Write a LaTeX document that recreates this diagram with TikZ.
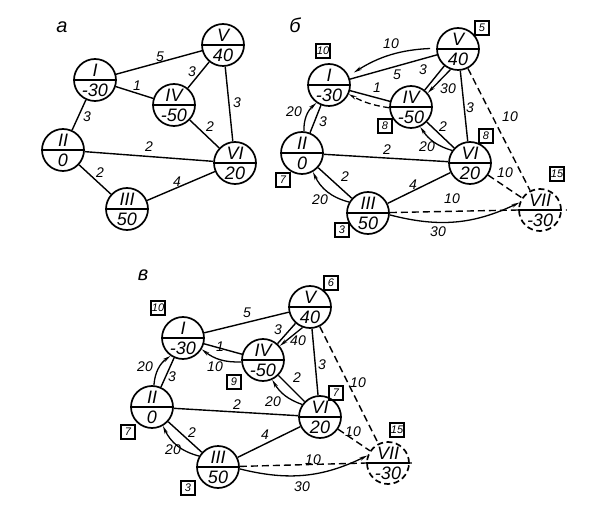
\documentclass[tikz,border=0pt]{standalone}
\usepackage{fontspec}
\setmainfont{Liberation Sans}
\usetikzlibrary{arrows.meta}

% circle with a dividing line: name, position, top text, bottom text
\newcommand{\vtx}[5][vtx]{%
  \node[#1] (#2) at #3 {};
  \draw[vline] (#2.west) -- (#2.east);
  \node[vtxtxt] (#2-t) at ([yshift=10pt]#2.center) {#4};
  \node[vtxtxt] (#2-b) at ([yshift=-10pt]#2.center) {#5};
}

\begin{document}
\begin{tikzpicture}[x=1pt, y=-1pt,
    vtx/.style={circle, draw, line width=1.7pt, minimum size=42pt, inner sep=0pt},
    dvtx/.style={vtx, dash pattern=on 6pt off 3.5pt},
    vline/.style={line width=1.5pt},
    vtxtxt/.style={font=\fontsize{18}{18}\selectfont\itshape, inner sep=0pt},
    edge/.style={line width=1.4pt},
    dedge/.style={edge, dash pattern=on 7pt off 4pt},
    flow/.style={line width=1.3pt, -{Stealth[length=8pt, width=3.5pt]}},
    wt/.style={font=\fontsize{14}{14}\selectfont\itshape, inner sep=0pt},
    tag/.style={draw, line width=1.5pt, minimum size=14pt, inner sep=0pt, font=\fontsize{11}{11}\selectfont\itshape},
    panel/.style={font=\fontsize{20}{20}\selectfont\itshape, inner sep=0pt}]

  \useasboundingbox[fill=white] (0,0) rectangle (596,510);

  %% panel a
  \node[panel] (pa) at (62,27) {а};
  \vtx{aI}{(95,80)}{I}{-30}
  \vtx{aV}{(223,45)}{V}{40}
  \vtx{aIV}{(174,105)}{IV}{-50}
  \vtx{aII}{(63,150)}{II}{0}
  \vtx{aVI}{(235,163)}{VI}{20}
  \vtx{aIII}{(127,209)}{III}{50}

  \draw[edge] (aI) -- (aV);
  \draw[edge] (aI) -- (aIV);
  \draw[edge] (aV) -- (aIV);
  \draw[edge] (aV) -- (aVI);
  \draw[edge] (aIV) -- (aVI);
  \draw[edge] (aI) -- (aII);
  \draw[edge] (aII) -- (aVI);
  \draw[edge] (aII) -- (aIII);
  \draw[edge] (aIII) -- (aVI);

  \node[wt] (aw1) at (160,57) {5};
  \node[wt] (aw2) at (137,86) {1};
  \node[wt] (aw3) at (192,72) {3};
  \node[wt] (aw4) at (237,103) {3};
  \node[wt] (aw5) at (210,127) {2};
  \node[wt] (aw6) at (87,117) {3};
  \node[wt] (aw7) at (149,147) {2};
  \node[wt] (aw8) at (100,173) {2};
  \node[wt] (aw9) at (177,182) {4};

  %% panel b
  \node[panel] (pb) at (295,25) {б};
  \vtx{bI}{(329,85)}{I}{-30}
  \vtx{bV}{(458,49)}{V}{40}
  \vtx{bIV}{(411,107)}{IV}{-50}
  \vtx{bII}{(302,153)}{II}{0}
  \vtx{bVI}{(470,163)}{VI}{20}
  \vtx{bIII}{(368,213)}{III}{50}
  \vtx[dvtx]{bVII}{(540,210)}{VII}{-30}
  \coordinate (bVIIe) at ([xshift=5pt]bVII.east);

  \draw[edge] (bI) -- (bV);
  \draw[edge] (bI) -- (bIV);
  \draw[edge] (bV) -- (bIV);
  \draw[edge] (bV) -- (bVI);
  \draw[edge] (bIV) -- (bVI);
  \draw[edge] (bI) -- (bII);
  \draw[edge] (bII) -- (bVI);
  \draw[edge] (bII) -- (bIII);
  \draw[edge] (bIII) -- (bVI);
  \draw[dedge] (bIII) -- (bVII.west) -- (bVIIe);
  \draw[dedge] (bVI) -- (bVII);
  \draw[dedge] (bV) -- (bVII);

  \draw[flow, shorten <=6pt, shorten >=6pt] (bV.178) to[bend right=15] (bI.25);
  \draw[flow] (bV.250) -- (bIV.40);
  \draw[flow, dash pattern=on 6pt off 3.5pt] (bIV.182) to[bend left=10] (bI.335);
  \draw[flow] (bII.85) to[bend left=25] (bI.235);
  \draw[flow] (bVI.145) to[bend left=20] (bIV.295);
  \draw[flow] (bIII.150) to[bend left=25] (bII.300);
  \draw[flow] (bIII.355) to[bend right=20] (bVII.160);

  \node[wt] (bw1) at (397,75) {5};
  \node[wt] (bw2) at (377,88) {1};
  \node[wt] (bw3) at (423,70) {3};
  \node[wt] (bw4) at (470,108) {3};
  \node[wt] (bw5) at (443,127) {2};
  \node[wt] (bw6) at (323,122) {3};
  \node[wt] (bw7) at (387,150) {2};
  \node[wt] (bw8) at (345,177) {2};
  \node[wt] (bw9) at (413,185) {4};
  \node[wt] (bw10) at (452,199) {10};
  \node[wt] (bw11) at (505,173) {10};
  \node[wt] (bw12) at (510,117) {10};
  \node[wt] (bf1) at (391,44) {10};
  \node[wt] (bf2) at (448,89) {30};
  \node[wt] (bf3) at (294,112) {20};
  \node[wt] (bf4) at (427,147) {20};
  \node[wt] (bf5) at (320,200) {20};
  \node[wt] (bf6) at (438,232) {30};

  \node[tag] (bt1) at (323,51) {10};
  \node[tag] (bt2) at (482,28) {5};
  \node[tag] (bt3) at (385,126) {8};
  \node[tag] (bt4) at (486,136) {8};
  \node[tag] (bt5) at (283,180) {7};
  \node[tag] (bt6) at (342,230) {3};
  \node[tag] (bt7) at (557,174) {15};

  %% panel c
  \node[panel] (pc) at (143,275) {в};
  \vtx{cI}{(183,338)}{I}{-30}
  \vtx{cV}{(310,307)}{V}{40}
  \vtx{cIV}{(263,360)}{IV}{-50}
  \vtx{cII}{(152,407)}{II}{0}
  \vtx{cVI}{(320,417)}{VI}{20}
  \vtx{cIII}{(218,467)}{III}{50}
  \vtx[dvtx]{cVII}{(388,463)}{VII}{-30}
  \coordinate (cVIIe) at ([xshift=5pt]cVII.east);

  \draw[edge] (cI) -- (cV);
  \draw[edge] (cI) -- (cIV);
  \draw[edge] (cV) -- (cIV);
  \draw[edge] (cV) -- (cVI);
  \draw[edge] (cIV) -- (cVI);
  \draw[edge] (cI) -- (cII);
  \draw[edge] (cII) -- (cVI);
  \draw[edge] (cII) -- (cIII);
  \draw[edge] (cIII) -- (cVI);
  \draw[dedge] (cIII) -- (cVII.west) -- (cVIIe);
  \draw[dedge] (cVI) -- (cVII);
  \draw[dedge] (cV) -- (cVII);

  \draw[flow] (cV.250) -- (cIV.40);
  \draw[flow] (cIV.185) to[bend left=20] (cI.329);
  \draw[flow] (cII.85) to[bend left=25] (cI.235);
  \draw[flow] (cVI.145) to[bend left=20] (cIV.295);
  \draw[flow] (cIII.150) to[bend left=25] (cII.300);
  \draw[flow] (cIII.355) to[bend right=20] (cVII.160);

  \node[wt] (cw1) at (247,313) {5};
  \node[wt] (cw2) at (220,347) {1};
  \node[wt] (cw3) at (278,330) {3};
  \node[wt] (cw4) at (322,365) {3};
  \node[wt] (cw5) at (297,378) {2};
  \node[wt] (cw6) at (172,377) {3};
  \node[wt] (cw7) at (237,405) {2};
  \node[wt] (cw8) at (192,433) {2};
  \node[wt] (cw9) at (265,435) {4};
  \node[wt] (cw10) at (313,460) {10};
  \node[wt] (cw11) at (353,432) {10};
  \node[wt] (cw12) at (358,383) {10};
  \node[wt] (cf1) at (298,341) {40};
  \node[wt] (cf2) at (215,367) {10};
  \node[wt] (cf3) at (145,367) {20};
  \node[wt] (cf4) at (273,402) {20};
  \node[wt] (cf5) at (173,450) {20};
  \node[wt] (cf6) at (302,487) {30};

  \node[tag] (ct1) at (158,308) {10};
  \node[tag] (ct2) at (331,283) {6};
  \node[tag] (ct3) at (234,382) {9};
  \node[tag] (ct4) at (336,393) {7};
  \node[tag] (ct5) at (128,432) {7};
  \node[tag] (ct6) at (188,488) {3};
  \node[tag] (ct7) at (397,430) {15};
\end{tikzpicture}
\end{document}
